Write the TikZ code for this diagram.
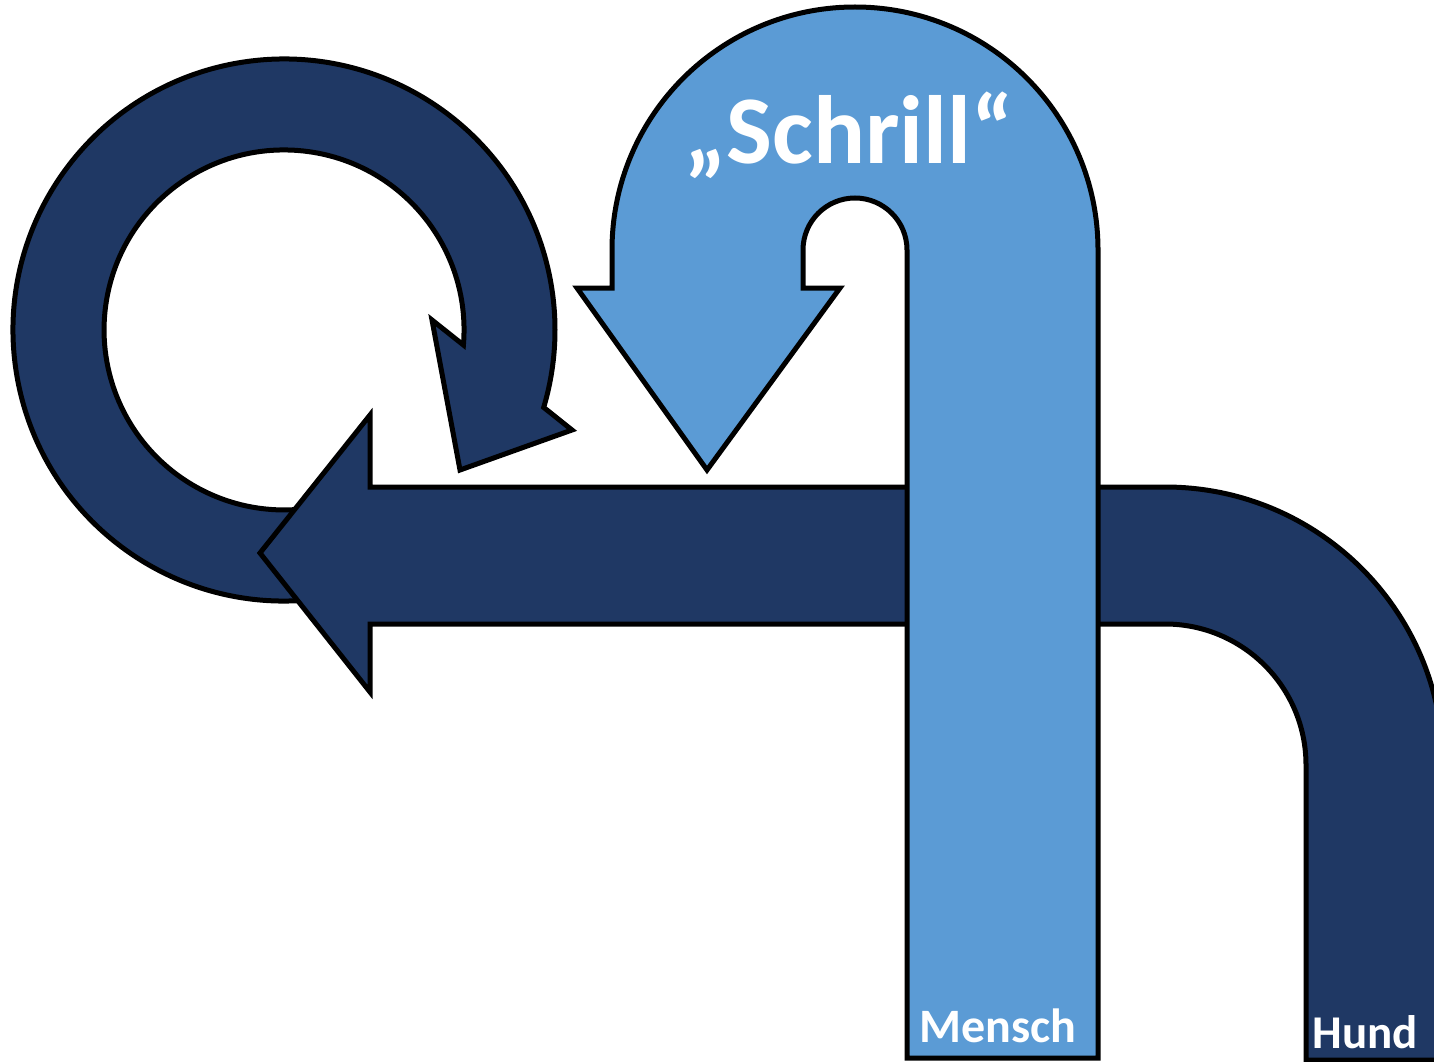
\documentclass[tikz,border=0pt]{standalone}
\usepackage{fontspec}
\setmainfont{Carlito}
\definecolor{navy}{RGB}{31,56,100}
\definecolor{lightblue}{RGB}{91,155,213}
\begin{document}
\begin{tikzpicture}[x=1pt,y=1pt,yscale=-1,
  shapeline/.style={draw=black,line width=5pt,line join=miter},
  darkshape/.style={shapeline,fill=navy},
  lightshape/.style={shapeline,fill=lightblue},
  lbl/.style={text=white,font=\bfseries,inner sep=0pt,anchor=base}]
\useasboundingbox (0,0) rectangle (1434,1062);
\clip (0,0) rectangle (1434,1062);
% circular arrow (loop)
\draw[darkshape] (284,330) ++(80:271)
  arc[start angle=80,end angle=376.6,radius=271]
  -- (572,430) -- (460,470) -- (432,320) -- (463.4,345)
  arc[start angle=364.8,end angle=80,radius=180] -- cycle;
% Hund arrow
\draw[darkshape] (1306,1060) -- (1306,765)
  arc[start angle=0,end angle=-90,radius=141]
  -- (370,624) -- (370,692) -- (260,553) -- (370,415) -- (370,487)
  -- (1165,487) arc[start angle=-90,end angle=0,radius=278]
  -- (1443,1060) -- cycle;
% Mensch U-turn arrow
\draw[lightshape] (1098,1058) -- (1098,250)
  arc[start angle=0,end angle=-180,radius=243]
  -- (612,288) -- (577,288) -- (707,470) -- (840,288) -- (803,288)
  -- (803,250) arc[start angle=180,end angle=360,radius=52]
  -- (907,1058) -- cycle;
\node[lbl,font=\bfseries\fontsize{97}{97}\selectfont] (schrill) at (849,164) {„Schrill“};
\node[lbl,font=\bfseries\fontsize{48}{48}\selectfont] (mensch) at (998,1042) {Mensch};
\node[lbl,font=\bfseries\fontsize{47}{47}\selectfont] (hund) at (1365,1048) {Hund};
\end{tikzpicture}
\end{document}
